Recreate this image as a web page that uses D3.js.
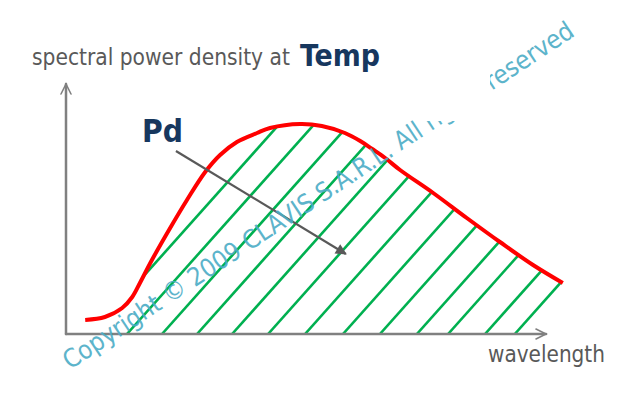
<!DOCTYPE html>
<html><head><meta charset="utf-8">
<script src="https://cdn.jsdelivr.net/npm/d3@7"></script>
<style>html,body{margin:0;padding:0;background:#fff;overflow:hidden}</style>
</head><body>
<svg id="c" width="631" height="417"></svg>
<script>
// ---- data (wavelength units 0..100, density units 0..100) ----
const curveX = [4.0, 8.1, 11.7, 13.8, 15.4, 17.9, 21.7, 25.2, 29.0, 32.1, 35.6, 39.8, 42.5, 48.8, 53.3, 58.1, 61.3, 63.8, 66.5, 69.6, 76.5, 83.5, 90.4, 97.3, 103.5];
const curveY = [5.6, 6.8, 10.4, 14.8, 20.4, 29.6, 42.4, 53.6, 64.8, 71.6, 76.8, 80.4, 82.4, 84.0, 83.2, 80.4, 77.2, 74.0, 70.4, 65.6, 56.4, 46.4, 36.8, 27.6, 20.4];
// where each hatch line (extended) meets the wavelength axis
const hatchStarts = [-9.2, -1.9, 5.4, 12.7, 20.0, 27.3, 34.6, 42.1, 49.8, 57.7, 65.4, 73.1, 79.6, 87.3, 93.5];
const hatchFrom = 11.7; // hatched area starts here
const arrowFrom = [22.9, 73.2];
const arrowTo = [58.3, 32.0];
const titleText = "spectral power density at";
const titleVar = "Temp";
const curveLabel = "Pd";
const xLabel = "wavelength";
const watermark = "Copyright \u00a9 2009 CLAVIS S.A.R.L. All rights reserved";

const svg = d3.select("#c");
const x = d3.scaleLinear().domain([0, 100]).range([66, 546]);
const y = d3.scaleLinear().domain([0, 100]).range([334, 84]);
const pts = curveX.map((v, i) => [v, curveY[i]]);
const FONT = "'DejaVu Sans Condensed','DejaVu Sans',Verdana,sans-serif";
const curveGen = d3.line().x(d => x(d[0])).y(d => y(d[1])).curve(d3.curveCatmullRom);

function fitText(sel, target) {
  const w = sel.node().getComputedTextLength();
  const fs = parseFloat(sel.attr("font-size"));
  sel.attr("font-size", fs * target / w);
}

// clip region under the curve: sample the drawn curve
const tmp = svg.append("path").attr("d", curveGen(pts));
const L = tmp.node().getTotalLength();
const sampled = d3.range(0, 301).map(i => { const q = tmp.node().getPointAtLength(L * i / 300); return [q.x, q.y]; })
  .filter(p => p[0] >= x(hatchFrom));
tmp.remove();
const clipPoly = [[x(hatchFrom), y(0)]].concat(sampled).concat([[x(100), y(0)]]);
const defs = svg.append("defs");
defs.append("clipPath").attr("id", "under")
  .append("path").attr("d", "M" + clipPoly.map(p => p.join(",")).join("L") + "Z");

// hatch lines
const slope = 1.12; // pixel rise per pixel run
svg.append("g").attr("clip-path", "url(#under)")
  .selectAll("line").data(hatchStarts).join("line")
  .attr("x1", d => x(d)).attr("y1", y(0))
  .attr("x2", d => x(d) + 280 / slope).attr("y2", y(0) - 280)
  .attr("stroke", "#00b050").attr("stroke-width", 2.6);

// axes
const axisG = svg.append("g").attr("stroke", "#808080").attr("stroke-width", 2.5).attr("fill", "none").attr("stroke-linecap", "round");
axisG.append("path").attr("d", `M${x(0)},${y(0)}L${x(100)},${y(0)}`);
axisG.append("path").attr("d", `M${x(0)},${y(0)}L${x(0)},${y(100)}`);
axisG.append("path").attr("stroke-width", 1.6).attr("d", `M${x(100)-10},${y(0)-5}L${x(100)},${y(0)}L${x(100)-10},${y(0)+5}`);
axisG.append("path").attr("stroke-width", 1.6).attr("d", `M${x(0)-5},${y(100)+10}L${x(0)},${y(100)}L${x(0)+5},${y(100)+10}`);

// red curve
svg.append("path").datum(pts).attr("d", curveGen)
  .attr("fill", "none").attr("stroke", "#ff0000").attr("stroke-width", 4);

// annotation arrow
defs.append("marker").attr("id", "ah").attr("viewBox", "0 0 10 10").attr("refX", 9).attr("refY", 5)
  .attr("markerWidth", 13).attr("markerHeight", 11).attr("markerUnits", "userSpaceOnUse").attr("orient", "auto")
  .append("path").attr("d", "M0,0L10,5L0,10Z").attr("fill", "#595959");
svg.append("line")
  .attr("x1", x(arrowFrom[0])).attr("y1", y(arrowFrom[1]))
  .attr("x2", x(arrowTo[0])).attr("y2", y(arrowTo[1]))
  .attr("stroke", "#595959").attr("stroke-width", 2.2).attr("marker-end", "url(#ah)");

// texts
const t1 = svg.append("text").attr("x", 32).attr("y", 65).attr("font-family", FONT).attr("font-size", 18)
  .attr("fill", "#595959").text(titleText);
fitText(t1, 258);
const t2 = svg.append("text").attr("x", 300).attr("y", 66).attr("font-family", FONT).attr("font-size", 24)
  .attr("font-weight", "bold").attr("fill", "#17375e").text(titleVar);
fitText(t2, 80);
const t3 = svg.append("text").attr("x", 142).attr("y", 142).attr("font-family", FONT).attr("font-size", 24)
  .attr("font-weight", "bold").attr("fill", "#17375e").text(curveLabel);
fitText(t3, 41);
const t4 = svg.append("text").attr("x", 488).attr("y", 362).attr("font-family", FONT).attr("font-size", 18)
  .attr("fill", "#595959").text(xLabel);
fitText(t4, 117);

// watermark
const wm = svg.append("text").attr("font-family", FONT).attr("font-size", 20)
  .attr("fill", "#4bacc6").attr("opacity", 0.9)
  .attr("transform", "translate(70,370) rotate(-33.5)").text(watermark);
fitText(wm, 607);
// white box hiding part of the watermark
svg.append("rect").attr("x", 420).attr("y", 55).attr("width", 70).attr("height", 66).attr("fill", "#fff");
</script>
</body></html>
